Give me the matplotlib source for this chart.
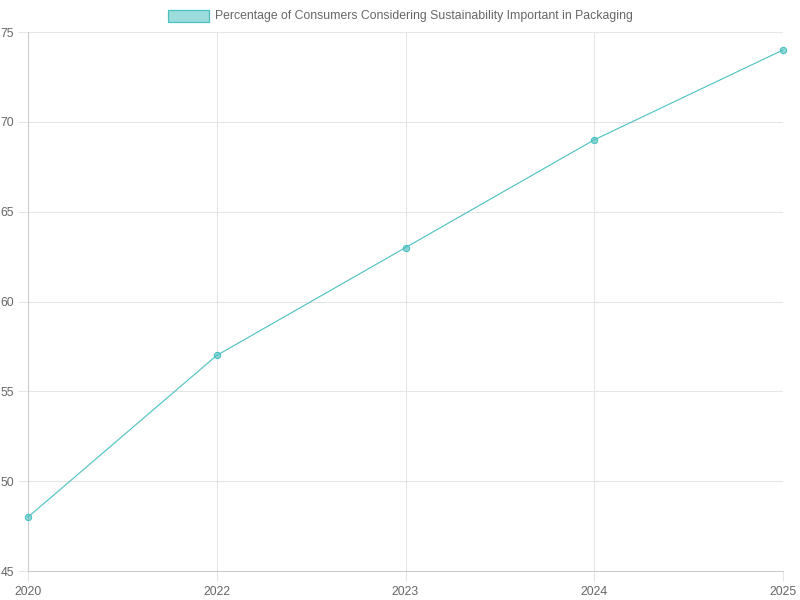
import matplotlib
matplotlib.use("Agg")
import matplotlib.pyplot as plt
from matplotlib.patches import Rectangle

years = ["2020", "2022", "2023", "2024", "2025"]
percent = [48, 57, 63, 69, 74]
series_label = "Percentage of Consumers Considering Sustainability Important in Packaging"

line_col = (75 / 255, 192 / 255, 192 / 255)
fill_col = (75 / 255, 192 / 255, 192 / 255, 0.6)
text_col = "#666666"
grid_col = "#e5e5e5"
axis_col = "#cccccc"

plt.rcParams["font.family"] = ["Liberation Sans", "DejaVu Sans"]

fig = plt.figure(figsize=(8, 6), dpi=100)
ax = fig.add_axes([28 / 800, 1 - 571 / 600, 755 / 800, 539 / 600])

x = list(range(len(years)))
ax.plot(x, percent, color=line_col, lw=0.8, zorder=3, clip_on=False)
ax.scatter(x, percent, s=20, facecolor=fill_col, edgecolor=line_col,
           linewidths=0.8, zorder=4, clip_on=False)

ax.set_xlim(0, len(years) - 1)
ax.set_ylim(45, 75)
ax.set_xticks(x)
ax.set_xticklabels(years)
ax.set_yticks(range(45, 76, 5))

ax.grid(True, color=grid_col, lw=0.75)
ax.set_axisbelow(True)
for side in ("top", "right"):
    ax.spines[side].set_visible(False)
for side in ("left", "bottom"):
    ax.spines[side].set_color(axis_col)
    ax.spines[side].set_linewidth(0.75)
ax.tick_params(colors=text_col, labelsize=8.8, length=7, width=0.75,
               color=grid_col, pad=3)
ax.tick_params(axis="x", pad=4)
for lab in ax.get_xticklabels() + ax.get_yticklabels():
    lab.set_color(text_col)

# legend
fig.patches.append(Rectangle((168 / 800, 1 - 22 / 600), 41 / 800, 12 / 600,
                             transform=fig.transFigure, facecolor=(75 / 255, 192 / 255, 192 / 255, 0.55),
                             edgecolor=line_col, lw=0.9))
fig.text(215 / 800, 1 - 16.5 / 600, series_label, fontsize=8.8, color=text_col,
         va="center", ha="left")

fig.savefig("out.png", dpi=100)
